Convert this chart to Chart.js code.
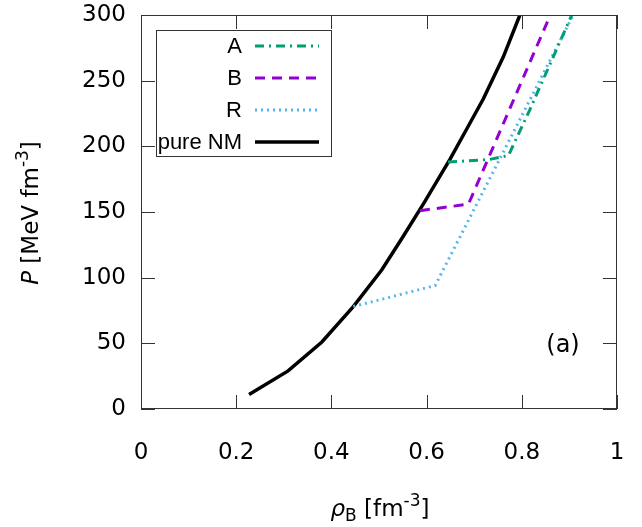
<!DOCTYPE html>
<html>
<head>
<meta charset="utf-8">
<script src="https://cdn.jsdelivr.net/npm/chart.js@4/dist/chart.umd.min.js"></script>
<style>
  html, body { margin: 0; padding: 0; background: #fff; }
  #wrap { width: 642px; height: 527px; }
</style>
</head>
<body>
<div id="wrap"><canvas id="chart" width="642" height="527"></canvas></div>
<script>
// ─── DATA ─────────────────────────────────────────────────────────────
const xTicks = [0, 0.2, 0.4, 0.6, 0.8, 1];
const yTicks = [0, 50, 100, 150, 200, 250, 300];

const nmRho = [0.227, 0.309, 0.380, 0.446, 0.506, 0.550, 0.593, 0.649, 0.684, 0.719, 0.761, 0.796];
const nmP   = [11, 29, 51, 78, 106, 131, 156, 190, 213, 236, 268, 300];

const aRho = [0.645, 0.732, 0.772, 0.817, 0.905];
const aP   = [188, 190, 193, 228, 300];

const bRho = [0.586, 0.688, 0.854];
const bP   = [151, 156, 295];

const rRho = [0.446, 0.618, 0.908];
const rP   = [78, 94, 300];

const toPts = (xs, ys) => xs.map((x, i) => ({ x, y: ys[i] }));

const series = [
  { label: 'A', data: toPts(aRho, aP), color: '#009e73', dash: [9, 5, 2, 5], width: 3 },
  { label: 'B', data: toPts(bRho, bP), color: '#9400d3', dash: [10, 7], width: 3 },
  { label: 'R', data: toPts(rRho, rP), color: '#56b4e9', dash: [2, 4], width: 3 },
  { label: 'pure NM', data: toPts(nmRho, nmP), color: '#000000', dash: [], width: 3.5 },
];

// ─── FRAME, INNER TICKS, LEGEND, TITLES ───────────────────────────────
const decor = {
  id: 'decor',
  afterDraw(chart) {
    const { ctx, chartArea: a, scales: { x, y } } = chart;
    ctx.save();

    // frame + mirrored inward ticks
    ctx.strokeStyle = '#333';
    ctx.lineWidth = 1;
    ctx.setLineDash([]);
    ctx.strokeRect(a.left + 0.5, a.top + 0.5, a.right - a.left - 1, a.bottom - a.top - 1);
    const tl = 14;
    ctx.beginPath();
    xTicks.forEach(v => {
      const px = Math.round(x.getPixelForValue(v)) + 0.5;
      ctx.moveTo(px, a.bottom); ctx.lineTo(px, a.bottom - tl);
      ctx.moveTo(px, a.top); ctx.lineTo(px, a.top + tl);
    });
    yTicks.forEach(v => {
      const py = Math.round(y.getPixelForValue(v)) + 0.5;
      ctx.moveTo(a.left, py); ctx.lineTo(a.left + tl, py);
      ctx.moveTo(a.right, py); ctx.lineTo(a.right - tl, py);
    });
    ctx.stroke();

    // legend box
    ctx.fillStyle = '#fff';
    ctx.fillRect(156, 30, 176, 127);
    ctx.strokeStyle = '#333';
    ctx.strokeRect(156.5, 30.5, 175, 126);
    ctx.font = '22px "Liberation Sans"';
    ctx.textAlign = 'right';
    ctx.textBaseline = 'middle';
    series.forEach((s, i) => {
      const cy = 46 + i * 32;
      ctx.fillStyle = '#000';
      ctx.fillText(s.label, 242, cy + 1);
      ctx.strokeStyle = s.color;
      ctx.lineWidth = s.width;
      ctx.setLineDash(s.dash);
      ctx.beginPath();
      ctx.moveTo(255, cy); ctx.lineTo(319, cy);
      ctx.stroke();
    });
    ctx.setLineDash([]);

    // panel label
    ctx.fillStyle = '#000';
    ctx.font = '24px "DejaVu Sans"';
    ctx.textAlign = 'center';
    ctx.fillText('(a)', 563, 346);

    // axis titles with italic symbols and super/subscripts
    const drawRich = (parts, cx, baseY) => {
      ctx.textAlign = 'left';
      ctx.textBaseline = 'alphabetic';
      let w = 0;
      parts.forEach(p => { ctx.font = p.font; w += ctx.measureText(p.t).width; });
      let px = cx - w / 2;
      parts.forEach(p => {
        ctx.font = p.font;
        ctx.fillText(p.t, px, baseY + (p.dy || 0));
        px += ctx.measureText(p.t).width;
      });
    };
    const N = '23px "DejaVu Sans"', I = 'italic 23px "DejaVu Sans"', S = '17px "DejaVu Sans"';

    drawRich([
      { t: 'ρ', font: I }, { t: 'B', font: S, dy: 5 },
      { t: ' [fm', font: N }, { t: '-3', font: S, dy: -10 }, { t: ']', font: N },
    ], 380, 516);

    ctx.save();
    ctx.translate(38, 213);
    ctx.rotate(-Math.PI / 2);
    drawRich([
      { t: 'P', font: I }, { t: ' [MeV fm', font: N },
      { t: '-3', font: S, dy: -10 }, { t: ']', font: N },
    ], 0, 0);
    ctx.restore();

    ctx.restore();
  },
};

// ─── CHART ────────────────────────────────────────────────────────────
new Chart(document.getElementById('chart'), {
  type: 'line',
  data: {
    datasets: series.map(s => ({
      label: s.label,
      data: s.data,
      borderColor: s.color,
      borderWidth: s.width,
      borderDash: s.dash,
      pointRadius: 0,
      tension: 0,
      fill: false,
    })),
  },
  options: {
    responsive: false,
    animation: false,
    layout: { padding: { left: 0, right: 25, top: 15, bottom: 0 } },
    plugins: { legend: { display: false }, tooltip: { enabled: false } },
    scales: {
      x: {
        type: 'linear', min: 0, max: 1,
        afterFit: s => {
          s.height = 118;
          s.paddingLeft = 0; s.paddingRight = 0;
        },
        afterBuildTicks: s => { s.ticks = xTicks.map(v => ({ value: v })); },
        ticks: {
          color: '#000', font: { family: 'DejaVu Sans', size: 23 }, padding: 30,
          maxRotation: 0, autoSkip: false,
          callback: v => String(Number(v.toFixed(1))),
        },
        grid: { display: false, drawTicks: false },
        border: { display: false },
      },
      y: {
        type: 'linear', min: 0, max: 300,
        afterFit: s => {
          s.width = 141;
          s.paddingTop = 0; s.paddingBottom = 0;
        },
        afterBuildTicks: s => { s.ticks = yTicks.map(v => ({ value: v })); },
        ticks: {
          color: '#000', font: { family: 'DejaVu Sans', size: 23 }, padding: 15,
          autoSkip: false,
        },
        grid: { display: false, drawTicks: false },
        border: { display: false },
      },
    },
  },
  plugins: [decor],
});
</script>
</body>
</html>
